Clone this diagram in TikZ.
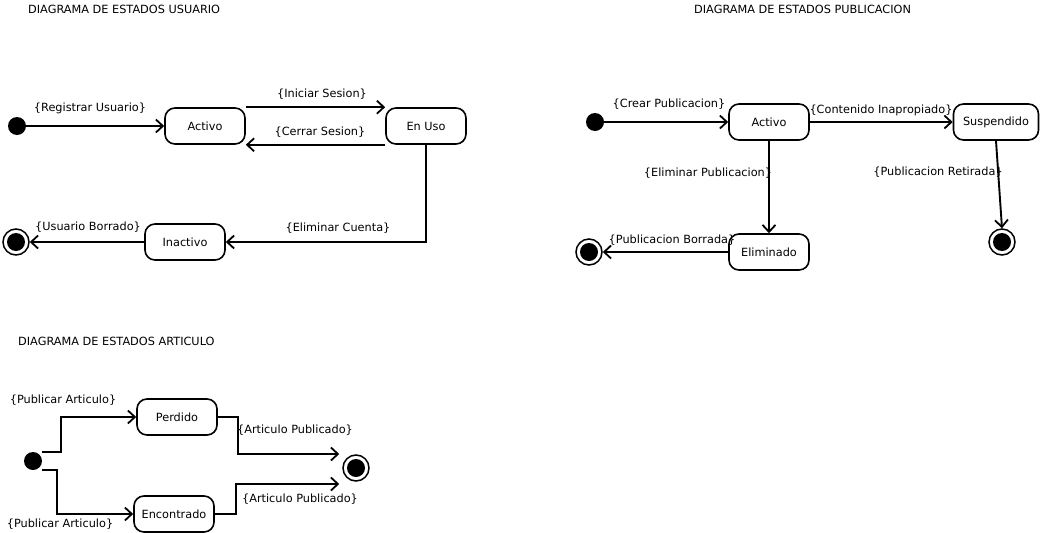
\documentclass[tikz,border=0pt]{standalone}
\usepackage{fontspec}
\setmainfont{DejaVu Sans}
\usetikzlibrary{arrows.meta}

\begin{document}
\begin{tikzpicture}[x=1pt,y=-1pt,
    font=\fontsize{11.3}{13}\selectfont,
    estado/.style={draw, line width=1.6pt, rounded corners=10pt,
      minimum width=80pt, minimum height=36pt, inner sep=2pt},
    inicio/.style={circle, fill, minimum size=18pt, inner sep=0pt},
    fin/.style={circle, draw, line width=1.5pt, minimum size=26pt, inner sep=0pt,
      path picture={\fill (path picture bounding box.center) circle (9pt);}},
    flecha/.style={line width=1.9pt, -{Straight Barb[length=7pt,width=13pt,line width=1.8pt]}},
    etiqueta/.style={inner sep=1pt},
    titulo/.style={anchor=west, inner sep=0pt}]
    \useasboundingbox (0,0) rectangle (1042,533);

    % usuario
    \node[titulo] (tusuario) at (28,9) {DIAGRAMA DE ESTADOS USUARIO};
    \node[inicio] (iniU) at (17,126) {};
    \node[estado] (activoU) at (205,126) {Activo};
    \node[estado] (enuso) at (426,126) {En Uso};
    \node[estado] (inactivo) at (185,242) {Inactivo};
    \node[fin] (finU) at (16,242) {};
    \draw[flecha] (iniU) -- (activoU);
    \draw[flecha] (activoU.north east) -- (enuso.north west);
    \draw[flecha] (enuso.south west) -- (activoU.south east);
    \draw[flecha] (enuso.south) |- (inactivo.east);
    \draw[flecha] (inactivo.west) -- (finU.east);
    \node[etiqueta] (lregistrar) at (90,108) {\{Registrar Usuario\}};
    \node[etiqueta] (liniciar) at (322,94) {\{Iniciar Sesion\}};
    \node[etiqueta] (lcerrar) at (320,132) {\{Cerrar Sesion\}};
    \node[etiqueta] (leliminarU) at (338,228) {\{Eliminar Cuenta\}};
    \node[etiqueta] (lborradoU) at (88,227) {\{Usuario Borrado\}};

    % publicacion
    \node[titulo] (tpublicacion) at (694,9) {DIAGRAMA DE ESTADOS PUBLICACION};
    \node[inicio] (iniP) at (595,122) {};
    \node[estado] (activoP) at (769,122) {Activo};
    \node[estado, minimum width=85pt] (suspendido) at (996,122) {Suspendido};
    \node[estado] (eliminado) at (769,252) {Eliminado};
    \node[fin] (finP) at (589,252) {};
    \node[fin] (finS) at (1002,242) {};
    \draw[flecha] (iniP) -- (activoP);
    \draw[flecha] (activoP.east) -- (suspendido.west);
    \draw[flecha] (activoP.south) -- (eliminado.north);
    \draw[flecha] (eliminado.west) -- (finP.east);
    \draw[flecha] (suspendido.south) -- (finS.north);
    \node[etiqueta] (lcrear) at (669,104) {\{Crear Publicacion\}};
    \node[etiqueta] (lcontenido) at (881,110) {\{Contenido Inapropiado\}};
    \node[etiqueta] (leliminarP) at (708,173) {\{Eliminar Publicacion\}};
    \node[etiqueta] (lborradaP) at (672,240) {\{Publicacion Borrada\}};
    \node[etiqueta] (lretirada) at (938,172) {\{Publicacion Retirada\}};

    % articulo
    \node[titulo] (tarticulo) at (18,341) {DIAGRAMA DE ESTADOS ARTICULO};
    \node[inicio] (iniA) at (33,461) {};
    \node[estado] (perdido) at (177,417) {Perdido};
    \node[estado] (encontrado) at (174,514) {Encontrado};
    \node[fin] (finA) at (356,468) {};
    \draw[flecha] ([yshift=9pt]iniA.east) -- ++(19,0) |- (perdido.west);
    \draw[flecha] ([yshift=-9pt]iniA.east) -- ++(15,0) |- (encontrado.west);
    \draw[flecha] (perdido.east) -- ++(20,0) |- ([xshift=-3pt,yshift=14pt]finA.west);
    \draw[flecha] (encontrado.east) -- ++(21,0) |- ([xshift=-3pt,yshift=-16pt]finA.west);
    \node[etiqueta] (lpublicar1) at (63,400) {\{Publicar Articulo\}};
    \node[etiqueta] (lpublicar2) at (60,524) {\{Publicar Articulo\}};
    \node[etiqueta] (lpublicado1) at (295,430) {\{Articulo Publicado\}};
    \node[etiqueta] (lpublicado2) at (300,499) {\{Articulo Publicado\}};
\end{tikzpicture}
\end{document}
